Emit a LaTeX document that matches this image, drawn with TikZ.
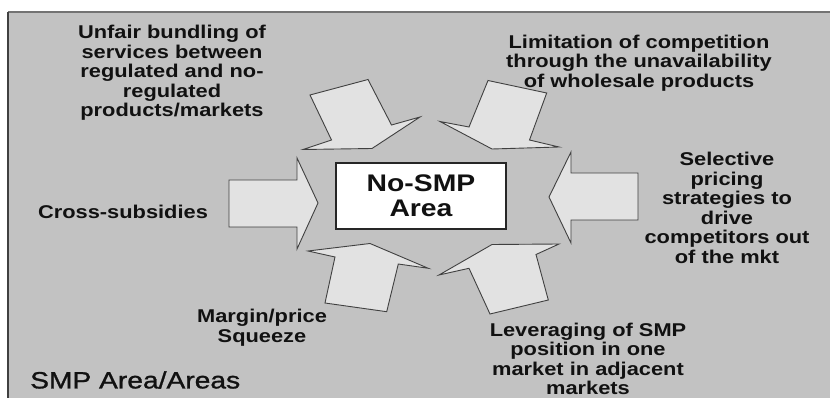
\documentclass[tikz,border=0pt]{standalone}
\usepackage{fontspec}
\setmainfont{Liberation Sans}
\newfontfamily\labfont[FakeStretch=1.18]{Liberation Sans}
\newfontfamily\areafont[FakeStretch=1.2,FakeBold=1.2]{Liberation Sans}
\definecolor{bggray}{HTML}{C2C2C2}
\definecolor{arrowfill}{HTML}{E2E2E2}
\definecolor{arrowline}{HTML}{404040}
\definecolor{txt}{HTML}{111111}
\tikzset{
  lab/.style={font=\labfont\bfseries\fontsize{18.5}{19.5}\selectfont, align=center, text=txt, inner sep=0pt},
  blockarrow/.style={fill=arrowfill, draw=arrowline, line width=0.9pt, line join=miter},
  centerbox/.style={draw=black!85, fill=white, line width=1.1pt, minimum width=170pt, minimum height=66pt, align=center,
    font=\labfont\bfseries\fontsize{24}{25}\selectfont, text=txt},
  areatitle/.style={font=\areafont\fontsize{23.5}{24}\selectfont, text=txt, inner sep=0pt}
}
\begin{document}
\begin{tikzpicture}[x=1pt,y=-1pt]
\useasboundingbox (0,0) rectangle (830,398);
% SMP area background
\fill[bggray] (8,12) rectangle (830,398);
\draw[line width=1.6pt, color=black!55] (8,12) -- (830,12);
\draw[line width=1.8pt, color=black!75] (8,398) -- (8,12);

% centre
\node[centerbox] (nosmp) at (421,196) {No-SMP\\Area};

% block arrows (drawn as shapes)
% left
\draw[blockarrow] (229,180) -- (297,180) -- (297,158) -- (318,203) -- (297,249) -- (297,227) -- (229,227) -- cycle;
% right
\draw[blockarrow] (638,173) -- (571,173) -- (571,152) -- (549,197) -- (571,243) -- (571,220) -- (638,220) -- cycle;
% top-left
\draw[blockarrow] (310,95) -- (368,79.5) -- (391.5,125) -- (420,117) -- (372,148.5) -- (303,149.5) -- (331.5,140) -- cycle;
% top-right
\draw[blockarrow] (488,80.5) -- (546.7,93) -- (529.5,140) -- (559,147) -- (492,149) -- (440,121.5) -- (469,127) -- cycle;
% bottom-left
\draw[blockarrow] (308,251) -- (370,243.5) -- (428.3,268.3) -- (398.3,264) -- (386.7,311.7) -- (325,303) -- (335,257) -- cycle;
% bottom-right
\draw[blockarrow] (439,275) -- (492,244.5) -- (559,244) -- (536,254.5) -- (548.3,300) -- (490,314) -- (469,268.3) -- cycle;

% labels
\node[lab] (bundling) at (172,73) {Unfair bundling of\\services between\\regulated and no-\\regulated\\products/markets};
\node[lab] (limitation) at (639,63) {Limitation of competition\\through the unavailability\\of wholesale products};
\node[lab] (selective) at (727,208) {Selective\\pricing\\strategies to\\drive\\competitors out\\of the mkt};
\node[lab] (cross) at (123,212) {Cross-subsidies};
\node[lab] (margin) at (262,327.5) {Margin/price\\Squeeze};
\node[lab] (leverage) at (588,359) {Leveraging of SMP\\position in one\\market in adjacent\\markets};
\node[areatitle, anchor=west] (smparea) at (30,380) {SMP Area/Areas};
\end{tikzpicture}
\end{document}
